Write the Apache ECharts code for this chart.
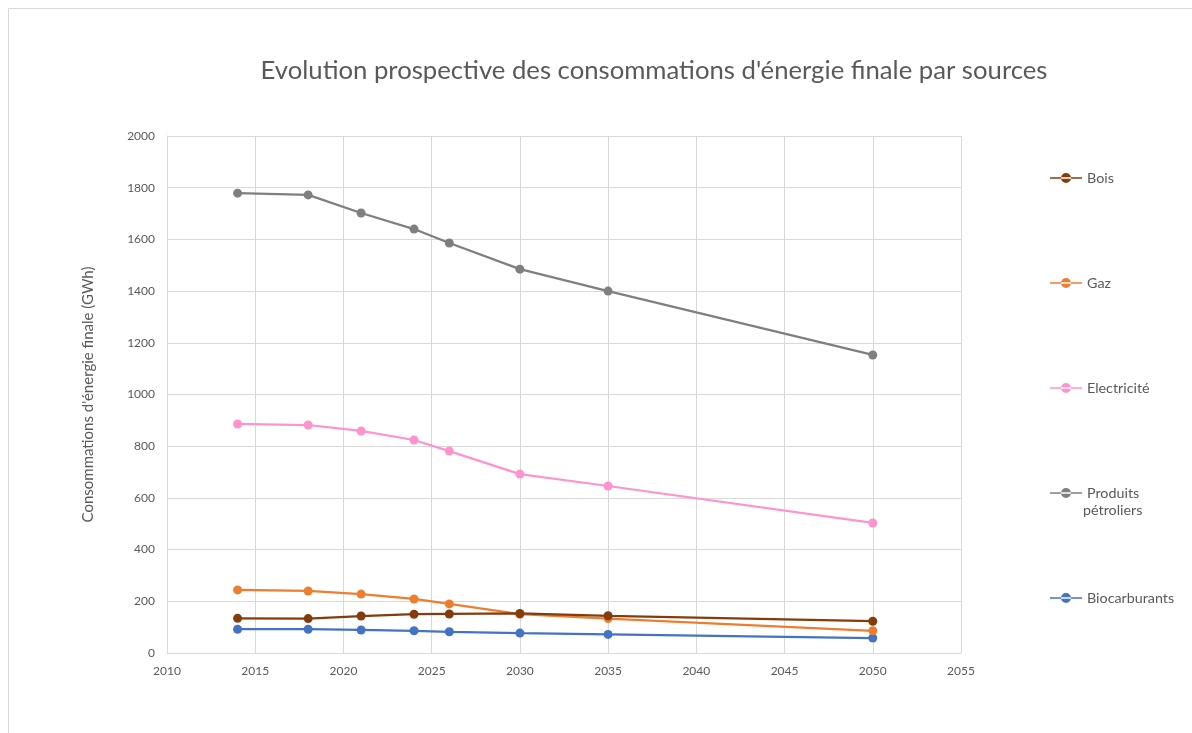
<!DOCTYPE html>
<html>
<head>
<meta charset="utf-8">
<script src="https://cdn.jsdelivr.net/npm/echarts@6/dist/echarts.min.js"></script>
<style>html,body{margin:0;padding:0;background:#fff}#c{width:1192px;height:733px}</style>
</head>
<body>
<div id="c"></div>
<script>
const years = [2014, 2018, 2021, 2024, 2026, 2030, 2035, 2050];
const bois = [134, 133, 143, 150, 151, 153, 144, 123];
const gaz = [244, 240, 228, 209, 190, 150, 133, 86];
const electricite = [886, 882, 859, 824, 781, 692, 646, 503];
const petroliers = [1779, 1772, 1702, 1640, 1586, 1485, 1400, 1153];
const biocarburants = [92, 92, 89, 86, 82, 77, 72, 58];
const seriesNames = ['Bois', 'Gaz', 'Electricité', 'Produits pétroliers', 'Biocarburants'];
const seriesValues = [bois, gaz, electricite, petroliers, biocarburants];
const colors = ['#843C0C', '#ED7D31', '#FF93CE', '#7F7F7F', '#4472C4'];
const legendTops = [166, 271, 376, 481, 586];

const FONT = 'Lato, "Open Sans", sans-serif';
const chart = echarts.init(document.getElementById('c'), null, {renderer: 'canvas'});

const series = seriesNames.map((n, i) => ({
  name: n,
  type: 'line',
  data: years.map((y, k) => [y, seriesValues[i][k]]),
  symbol: 'circle',
  symbolSize: 9,
  showSymbol: true,
  lineStyle: {width: 2.25, color: colors[i]},
  itemStyle: {color: colors[i]},
  z: 10 - i
}));

const legends = seriesNames.map((n, i) => ({
  data: [n],
  left: 1045,
  top: legendTops[i],
  itemWidth: 32,
  itemHeight: 10,
  itemGap: 4,
  icon: 'path://M0,4.25 L32,4.25 L32,5.75 L0,5.75 Z M11,5 A5,5 0 1 0 21,5 A5,5 0 1 0 11,5 Z',
  formatter: (name) => name === 'Produits pétroliers' ? 'Produits' : name,
  textStyle: {color: '#595959', fontSize: 14.3, fontFamily: FONT},
  selectedMode: false
}));

chart.setOption({
  animation: false,
  backgroundColor: '#fff',
  color: colors,
  title: {
    text: "Evolution prospective des consommations d'énergie finale par sources",
    left: 649, top: 53, textAlign: 'center',
    textStyle: {color: '#595959', fontSize: 25.7, fontWeight: 'normal', fontFamily: FONT}
  },
  legend: legends,
  grid: {left: 167, right: 231, top: 136, bottom: 80},
  xAxis: {
    type: 'value', min: 2010, max: 2055, interval: 5,
    axisLine: {show: true, lineStyle: {color: '#D9D9D9', width: 1}},
    axisTick: {show: false},
    splitLine: {show: true, lineStyle: {color: '#D9D9D9', width: 1}},
    axisLabel: {color: '#595959', fontSize: 12, fontFamily: FONT, margin: 12, formatter: v => String(v)}
  },
  yAxis: {
    type: 'value', min: 0, max: 2000, interval: 200,
    name: "Consommations d'énergie finale (GWh)",
    nameLocation: 'middle', nameGap: 71, nameRotate: 90,
    nameTextStyle: {color: '#595959', fontSize: 15, fontFamily: FONT},
    axisLine: {show: true, lineStyle: {color: '#D9D9D9', width: 1}},
    axisTick: {show: false},
    splitLine: {show: true, lineStyle: {color: '#D9D9D9', width: 1}},
    axisLabel: {color: '#595959', fontSize: 12, fontFamily: FONT, margin: 12, formatter: v => String(v)}
  },
  graphic: [
    {type: 'rect', shape: {x: 8.5, y: 8.5, width: 1300, height: 900}, style: {fill: 'none', stroke: '#D9D9D9', lineWidth: 1}, silent: true, z: -1},
    {type: 'text', left: 1083, top: 503, style: {text: 'pétroliers', fill: '#595959', fontSize: 14.3, fontFamily: FONT}}
  ],
  series: series
});
</script>
</body>
</html>
